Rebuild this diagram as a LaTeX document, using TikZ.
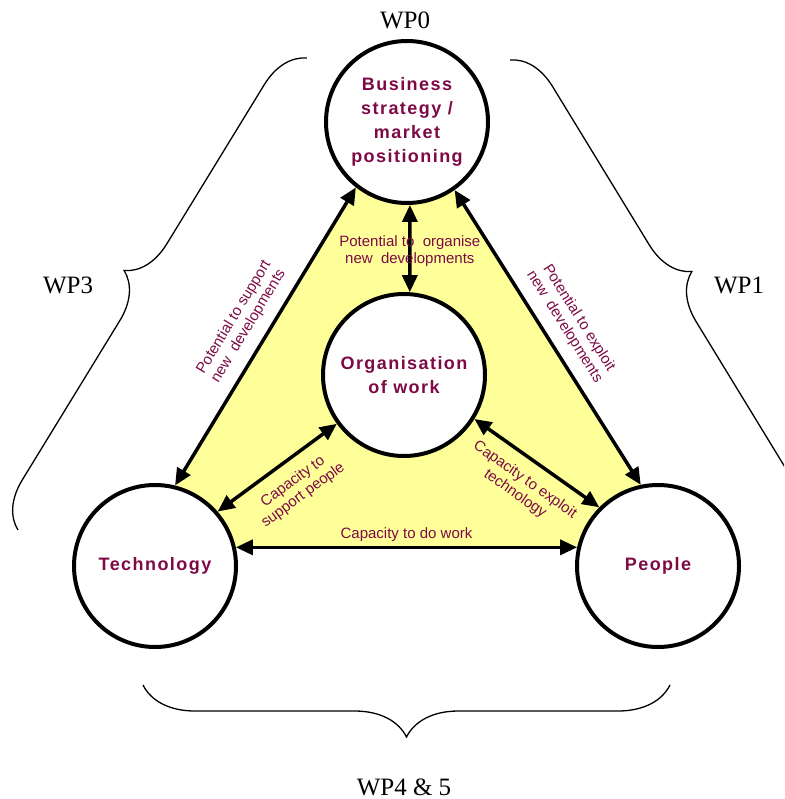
\documentclass[tikz,border=0pt]{standalone}
\usepackage{fontspec}
\setmainfont{Liberation Serif}
\setsansfont{Liberation Sans}
\newfontfamily\topicfont[LetterSpace=8]{Liberation Sans}
\usetikzlibrary{arrows.meta,decorations.pathreplacing,calc}
\definecolor{wpred}{RGB}{125,10,70}
\definecolor{wpyellow}{RGB}{255,255,153}
\tikzstyle{topic} = [circle, draw=black, line width=4pt, fill=white, minimum size=162pt, inner sep=0pt, text=wpred, align=center, font=\topicfont\bfseries\fontsize{18}{24}\selectfont]
\tikzstyle{link} = [line width=3.5pt, >={Triangle[length=17pt,width=15pt]}, <->]
\tikzstyle{note} = [text=wpred, align=center, font=\sffamily\fontsize{15}{17}\selectfont, inner sep=2pt]
\tikzstyle{wpbrace} = [decorate, line width=1.3pt, decoration={brace,amplitude=45pt}]
\tikzstyle{wp} = [font=\fontsize{25}{30}\selectfont, anchor=base]

\begin{document}
\begin{tikzpicture}[x=1pt,y=-1pt]
      \useasboundingbox (0,0) rectangle (784,799);
      \clip (0,0) rectangle (784,799);
      % yellow triangle behind the circles
      \fill[wpyellow] (403,110) -- (137,547) -- (681,547) -- cycle;
      \node (biz) at (407,122) [topic] {Business\\strategy /\\market\\positioning};
      \node (org) at (404,375) [topic] {Organisation\\of work};
      \node (tech) at (155,566) [topic] {Technology};
      \node (ppl) at (658,566) [topic] {People};
      % arrows between the topics
      \draw[link] (tech.76) -- (biz.232) node[note, midway, sloped, above=9pt] {Potential to support\\new\ \ developments};
      \draw[link] (biz.305) -- (ppl.102) node[note, midway, sloped, above=9pt] {Potential to exploit\\new\ \ developments};
      \draw[link] (biz.-88) -- (org.86) node[note, pos=0.53] {Potential to\ \ organise\\new\ \ developments};
      \draw[link] (tech.41) -- (org.216) node[note, pos=0.53, sloped, below=10pt] {Capacity to\\support people};
      \draw[link] (org.328) -- (ppl.135) node[note, midway, sloped, below=10pt] {Capacity to exploit\\technology};
      \draw[link] (tech.13) -- (ppl.167) node[note, midway, above=2pt] {Capacity to do work};
      % work packages
      \draw[wpbrace] (18,530) -- (307,58);
      \draw[wpbrace] (510,60) -- (797,530);
      \draw[wpbrace, decoration={amplitude=52pt}] (670,685) -- (143,685);
      \node (wp0) [wp] at (405,29) {WP0};
      \node (wp3) [wp] at (68,293) {WP3};
      \node (wp1) [wp] at (739,293) {WP1};
      \node (wp45) [wp] at (404,795) {WP4 \& 5};
\end{tikzpicture}
\end{document}
